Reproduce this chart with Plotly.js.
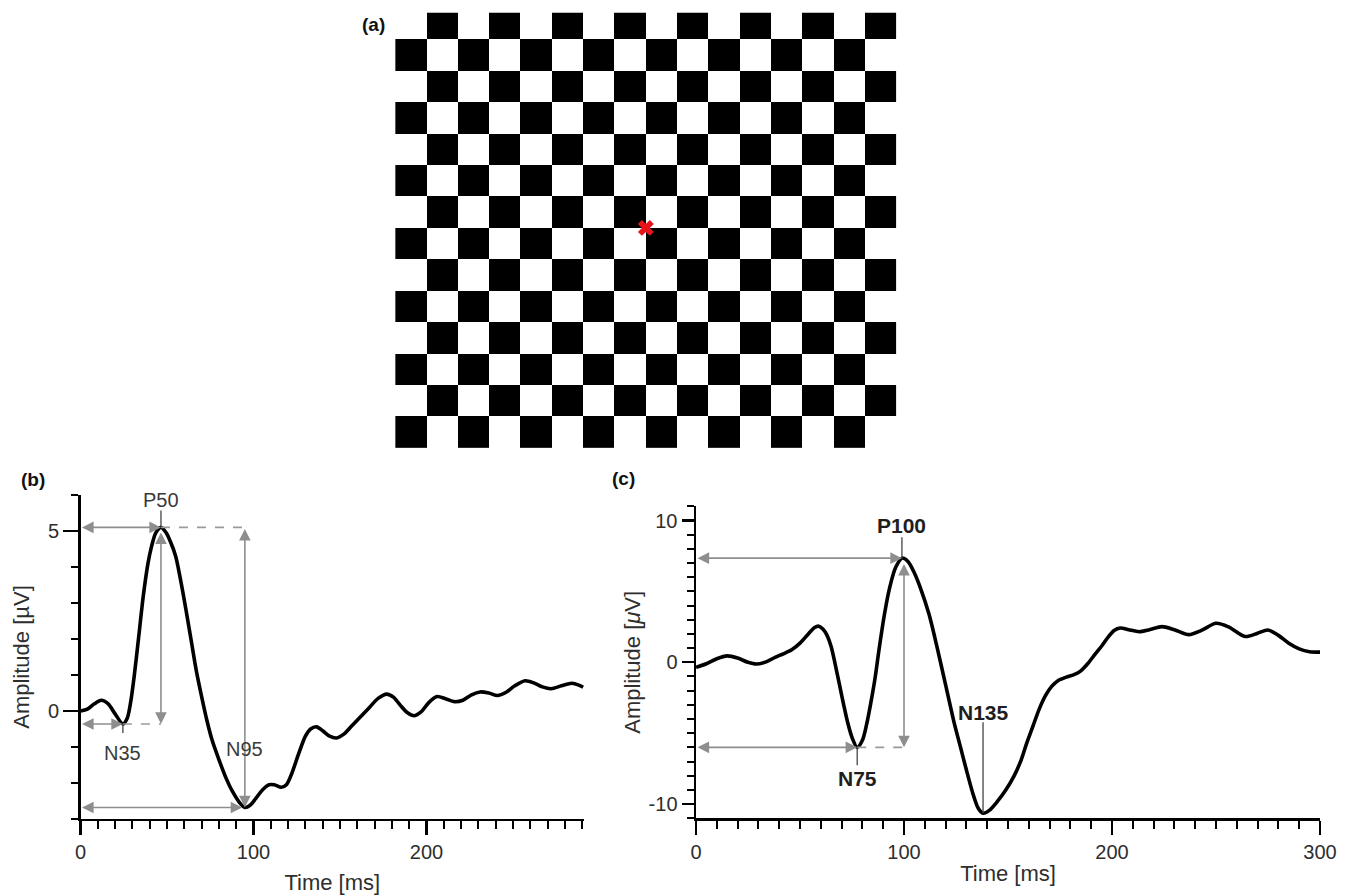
<!DOCTYPE html>
<html><head><meta charset="utf-8">
<script src="https://cdn.plot.ly/plotly-3.0.1.min.js"></script>
<style>html,body{margin:0;padding:0;background:#fff}#chart{width:1350px;height:896px}</style>
</head><body><div id="chart"></div>
<script>
// ---------- (a) checkerboard (1 = black, 0 = white), bottom row first ----------
const rowA = [1,0,1,0,1,0,1,0,1,0,1,0,1,0,1,0];
const rowB = [0,1,0,1,0,1,0,1,0,1,0,1,0,1,0,1];
const boardRows = [rowA,rowB,rowA,rowB,rowA,rowB,rowA,rowB,rowA,rowB,rowA,rowB,rowA,rowB];
const fixationX = [8];
const fixationY = [7];

// ---------- (b) pattern ERG ----------
const bTime = [0,4,8,12,16,20,24.5,27,29,31,33.5,36.3,39,41,43.5,46.5,49.5,52,55,58,61,64,67,70,73,76,80,84,88,92,95,98,101,105,109,112,116,119,122,126,130,133,136.5,140,144,148,152,157,162,167,172,177,181,185,189,193,197,201,206,211,216,221,226,231,236,241,246,251,257,262,267,272,278,284,288,290.5];
const bAmp  = [0,0.05,0.2,0.3,0.2,-0.08,-0.36,-0.2,0.25,0.95,2.0,3.2,4.1,4.56,4.95,5.1,4.95,4.7,4.3,3.6,2.8,1.95,1.1,0.4,-0.25,-0.8,-1.35,-1.85,-2.25,-2.55,-2.68,-2.62,-2.45,-2.2,-2.05,-2.05,-2.12,-2.05,-1.75,-1.2,-0.7,-0.5,-0.44,-0.55,-0.7,-0.75,-0.65,-0.4,-0.15,0.1,0.35,0.47,0.38,0.15,-0.05,-0.13,-0.02,0.22,0.4,0.34,0.26,0.3,0.45,0.53,0.5,0.43,0.52,0.7,0.84,0.78,0.67,0.62,0.7,0.77,0.72,0.66];
const bPeakNames = ['N35','P50','N95'];
const bTimeTicks = [0,100,200];
const bTimeTickText = ['0','100','200'];
const bAmpTicks = [0,5];
const bAmpTickText = ['0','5'];

// ---------- (c) pattern VEP ----------
const cTime = [0,5,10,15,20,25,29,34,38,42,46,50,54,57,59,61,63,65,67,69,71,73,75,77.5,80,82,84,86,88,90.5,93,96,99,102,105,108,112,116,120,124,127,130,133,135.7,138,141,145,149,153,156.3,159,162,165,168,171,174,178,182,185,188.5,192,195.4,198,201,204,208,213,218,224,230,237,243,250,256,264,270,275,280,285,290,295,300];
const cAmp  = [-0.35,-0.1,0.25,0.45,0.3,0.0,-0.12,0.05,0.35,0.6,0.88,1.35,2.0,2.45,2.55,2.35,1.9,1.1,-0.2,-1.6,-3.0,-4.3,-5.3,-6.0,-5.5,-4.4,-2.9,-1.2,0.9,3.3,5.2,6.7,7.35,7.1,6.3,5.2,3.4,1.0,-1.6,-4.2,-5.9,-7.6,-9.2,-10.3,-10.65,-10.45,-9.8,-9.0,-8.0,-6.9,-5.7,-4.5,-3.3,-2.35,-1.7,-1.3,-1.05,-0.85,-0.6,-0.07,0.6,1.22,1.75,2.25,2.42,2.3,2.16,2.3,2.52,2.3,1.95,2.25,2.75,2.5,1.82,2.05,2.28,1.9,1.35,0.95,0.75,0.72];
const cPeakNames = ['N75','P100','N135'];
const cTimeTicks = [0,100,200,300];
const cTimeTickText = ['0','100','200','300'];
const cAmpTicks = [-10,0,10];
const cAmpTickText = ['-10','0','10'];

// ---------- helpers: locate peaks in the data ----------
function extremum(t, v, lo, hi, wantMax){
  let best = -1;
  for(let i=0;i<t.length;i++){
    if(t[i]<lo || t[i]>hi) continue;
    if(best<0 || (wantMax ? v[i]>v[best] : v[i]<v[best])) best=i;
  }
  return {t:t[best], v:v[best]};
}
const N35 = extremum(bTime,bAmp,10,35,false);
const P50 = extremum(bTime,bAmp,30,70,true);
const N95 = extremum(bTime,bAmp,70,130,false);
const N75 = extremum(cTime,cAmp,60,90,false);
const P100 = extremum(cTime,cAmp,85,115,true);
const N135 = extremum(cTime,cAmp,115,170,false);

const FONT = 'Liberation Sans, Arial, Helvetica, sans-serif';
const GRAY = '#8e8e8e';
const TXT = '#2e2e2e';

function arrow(xr, yr, x0, y0, x1, y1){
  return {xref:xr, yref:yr, axref:xr, ayref:yr, x:x1, y:y1, ax:x0, ay:y0, text:'',
    showarrow:true, arrowhead:2, startarrowhead:2, arrowside:'end+start',
    arrowsize:1.45, startarrowsize:1.45, arrowwidth:1.6, arrowcolor:GRAY,
    standoff:0, startstandoff:0};
}
function label(xr, yr, txt, pk, dy, bold){
  return {xref:xr, yref:yr, x:pk.t, y:pk.v, yshift:dy, text: bold?('<b>'+txt+'</b>'):txt,
    showarrow:false, xanchor:'center', yanchor:'middle',
    font:{family:FONT, size:bold?21:20, color:bold?'#1e1e1e':'#3a3a3a'}};
}
function dashed(xr, yr, x0, x1, y){
  return {type:'line', xref:xr, yref:yr, x0:x0, x1:x1, y0:y, y1:y,
    line:{color:'#9a9a9a', width:1.6, dash:'dash'}};
}
function tickLine(xr, yr, pk, px){
  return {type:'line', xref:xr, yref:yr, x0:pk.t, x1:pk.t, ysizemode:'pixel', yanchor:pk.v, y0:0, y1:px,
    line:{color:'#444', width:1.3}};
}
function panel(txt, x, y){
  return {xref:'paper', yref:'paper', x:x, y:y, text:'<b>'+txt+'</b>', showarrow:false,
    xanchor:'center', yanchor:'middle', font:{family:FONT, size:19, color:'#111'}};
}

const traces = [
  {type:'heatmap', z:boardRows, x0:0.5, dx:1, y0:0.5, dy:1, xaxis:'x3', yaxis:'y3',
   colorscale:[[0,'#ffffff'],[1,'#000000']], zmin:0, zmax:1, showscale:false, hoverinfo:'skip'},
  {type:'scatter', mode:'markers', x:fixationX, y:fixationY, xaxis:'x3', yaxis:'y3',
   marker:{symbol:'x', size:14, color:'#e8141c', line:{width:0}}, hoverinfo:'skip'},
  {type:'scatter', mode:'lines', x:bTime, y:bAmp, xaxis:'x', yaxis:'y',
   line:{color:'#000', width:3.6, shape:'spline', smoothing:0.8}, hoverinfo:'skip'},
  {type:'scatter', mode:'lines', x:cTime, y:cAmp, xaxis:'x2', yaxis:'y2',
   line:{color:'#000', width:3.6, shape:'spline', smoothing:0.8}, hoverinfo:'skip'}
];

function xAx(dom, rng, anchor, ticks, ttext, title, standoff){
  return {domain:dom, range:rng, anchor:anchor, showline:true, linecolor:'#000', linewidth:2.5,
    ticks:'outside', ticklen:14, tickwidth:2.2, tickcolor:'#000', tickmode:'array', tickvals:ticks, ticktext:ttext,
    tickfont:{family:FONT, size:20, color:TXT}, showgrid:false, zeroline:false, fixedrange:true,
    minor:{tickmode:'linear', tick0:0, dtick:10, ticks:'outside', ticklen:8, tickwidth:2, tickcolor:'#000', showgrid:false},
    title:{text:title, font:{family:FONT, size:22, color:TXT}, standoff:standoff}};
}
function yAx(dom, rng, anchor, ticks, ttext, title, standoff, tl){
  return {domain:dom, range:rng, anchor:anchor, showline:true, linecolor:'#000', linewidth:2.5,
    ticks:'outside', ticklen:tl, tickwidth:2.2, tickcolor:'#000', tickmode:'array', tickvals:ticks, ticktext:ttext,
    tickfont:{family:FONT, size:20, color:TXT}, showgrid:false, zeroline:false, fixedrange:true,
    minor:{tickmode:'linear', tick0:0, dtick:1, ticks:'outside', ticklen:7, tickwidth:2, tickcolor:'#000', showgrid:false},
    title:{text:title, font:{family:FONT, size:22, color:TXT}, standoff:standoff}};
}

const layout = {
  width:1350, height:896, margin:{l:0,r:0,t:0,b:0},
  paper_bgcolor:'#fff', plot_bgcolor:'rgba(0,0,0,0)', showlegend:false,
  font:{family:FONT},
  xaxis: xAx([0.05963,0.43259],[0,291],'y',bTimeTicks,bTimeTickText,'Time [ms]',12),
  yaxis: yAx([0.08594,0.44754],[-3,6],'x',bAmpTicks,bAmpTickText,'Amplitude [µV]',12,15),
  xaxis2: xAx([0.51556,0.97778],[0,300],'y2',cTimeTicks,cTimeTickText,'Time [ms]',4),
  yaxis2: yAx([0.08683,0.43482],[-11,11],'x2',cAmpTicks,cAmpTickText,'Amplitude [<i>μ</i>V]',2,12),
  xaxis3: {domain:[0.29274,0.66407], range:[0,16], anchor:'y3', visible:false, fixedrange:true},
  yaxis3: {domain:[0.5,0.98583], range:[0,13.845], anchor:'x3', visible:false, fixedrange:true},
  shapes: [
    dashed('x','y',P50.t,N95.t,P50.v),
    dashed('x','y',N35.t,P50.t,N35.v),
    dashed('x2','y2',N75.t,P100.t+1,N75.v),
    tickLine('x','y',P50,17),
    tickLine('x','y',N35,-9),
    tickLine('x2','y2',P100,21),
    tickLine('x2','y2',N75,-18),
    tickLine('x2','y2',N135,91)
  ],
  annotations: [
    panel('(a)',0.2763,0.9721),
    panel('(b)',0.0242,0.4654),
    panel('(c)',0.4615,0.4665),
    arrow('x','y',0,P50.v,P50.t,P50.v),
    arrow('x','y',0,N35.v,N35.t,N35.v),
    arrow('x','y',0,N95.v,N95.t-1.5,N95.v),
    arrow('x','y',N95.t,P50.v,N95.t,N95.v),
    arrow('x','y',P50.t,P50.v-0.1,P50.t,N35.v),
    arrow('x2','y2',0,P100.v,P100.t,P100.v),
    arrow('x2','y2',0,N75.v,N75.t,N75.v),
    arrow('x2','y2',P100.t+1,P100.v-0.3,P100.t+1,N75.v),
    label('x','y','P50',P50,27,false),
    label('x','y','N35',N35,-29,false),
    label('x','y','N95',N95,58,false),
    label('x2','y2','P100',P100,33,true),
    label('x2','y2','N75',N75,-31,true),
    label('x2','y2','N135',N135,101,true)
  ]
};

Plotly.newPlot('chart', traces, layout, {staticPlot:true, displayModeBar:false});
</script></body></html>
